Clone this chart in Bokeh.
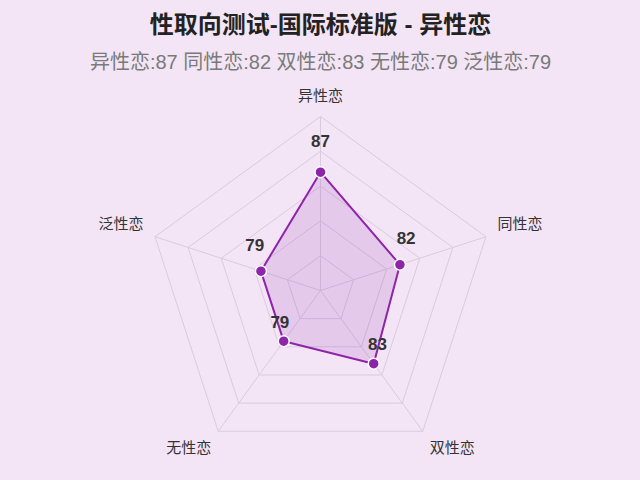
import numpy as np
from bokeh.plotting import figure
from bokeh.models import Range1d, ColumnDataSource
from bokeh.core.properties import value
from bokeh.embed import file_html
from bokeh.resources import INLINE

# ---- data ----
title_text = "性取向测试-国际标准版 - 异性恋"
categories = ["异性恋", "同性恋", "双性恋", "无性恋", "泛性恋"]
scores = [87, 82, 83, 79, 79]
r_min, r_max = 70, 95
ring_levels = [75, 80, 85, 90, 95]
subtitle_text = " ".join(f"{c}:{s}" for c, s in zip(categories, scores))

# ---- layout (page pixel coordinates) ----
W, H = 624, 464
CX, CY = 320, 290
R = 174
BG = "#F3E5F5"
GRID = "#DBCADF"
PURPLE = "#8E24AA"
FONT = value("Liberation Sans, Noto Sans CJK SC")
CJK = value("Noto Sans CJK SC")

n = len(categories)
theta = np.arange(n) * 2 * np.pi / n
sin, cos = np.sin(theta), np.cos(theta)


def rad(v):
    return (np.asarray(v, dtype=float) - r_min) / (r_max - r_min) * R


p = figure(width=W, height=H, x_range=Range1d(0, W), y_range=Range1d(H, 0),
           output_backend="svg", toolbar_location=None, min_border=0,
           background_fill_color=BG, border_fill_color=BG, outline_line_color=None)
p.axis.visible = False
p.grid.visible = False

# rings
ring_xs = [list(CX + rad(l) * sin) for l in ring_levels]
ring_ys = [list(CY - rad(l) * cos) for l in ring_levels]
p.patches(ring_xs, ring_ys, fill_color=None, line_color=GRID, line_width=1)

# spokes
p.segment(x0=[CX] * n, y0=[CY] * n, x1=list(CX + R * sin), y1=list(CY - R * cos),
          line_color=GRID, line_width=1)

# data polygon
rv = rad(scores)
px = CX + rv * sin
py = CY - rv * cos
p.patch(list(px), list(py), fill_color="#9C27B0", fill_alpha=0.15,
        line_color=PURPLE, line_width=2)
p.scatter(list(px), list(py), size=11, fill_color=PURPLE, line_color="white", line_width=1.5)

# value labels
lx = px + 6.5 * sin
ly = py - 6.5 * cos - 24.5
p.text(list(lx), list(ly), text=[str(s) for s in scores], text_align="center",
       text_baseline="middle", text_font=value("Liberation Sans"), text_font_size="17px",
       text_font_style="bold", text_color="#333333")

# axis names
d = 12
nx = CX + (R + d) * sin
ny = CY - (R + d) * cos - np.where(cos < -0.1, 5, 0)
aligns = ["center" if abs(s) < 0.1 else ("left" if s > 0 else "right") for s in sin]
bases = ["bottom" if c > 0.1 else ("top" if c < -0.1 else "middle") for c in cos]
src = ColumnDataSource(dict(x=list(nx), y=list(ny), t=categories, a=aligns, b=bases))
p.text("x", "y", text="t", text_align="a", text_baseline="b", source=src,
       text_font=CJK, text_font_size="15px", text_color="#333333")

# title / subtitle
p.text([CX], [24], text=[title_text], text_align="center", text_baseline="middle",
       text_font=FONT, text_font_size="24px", text_font_style="bold", text_color="#222222")
p.text([CX], [61], text=[subtitle_text], text_align="center", text_baseline="middle",
       text_font=FONT, text_font_size="20px", text_color="#7A7A7A")

html = file_html(p, INLINE)
html = html.replace("</head>", f"<style>body{{background:{BG};}}</style></head>", 1)
open("out.html", "w").write(html)
